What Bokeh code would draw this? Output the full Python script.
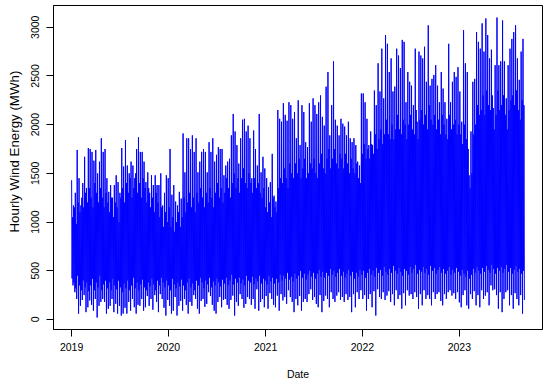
import pandas as pd
from bokeh.plotting import figure
from bokeh.models import ColumnDataSource, FixedTicker, Range1d, DatetimeTickFormatter, Title
from bokeh.embed import file_html
from bokeh.resources import INLINE

start_date = "2019-01-01"
year_labels = ["2019", "2020", "2021", "2022", "2023"]
y_ticks = [0, 500, 1000, 1500, 2000, 2500, 3000]
x_title = "Date"
y_title = "Hourly Wind Energy (MWh)"

# weekly highest hourly value (MWh)
week_high = [
    1430, 1170, 1300, 1740, 1450, 1170, 1400, 1670, 1350, 1760,
    1750, 1720, 1630, 1740, 1500, 1620, 1860, 1720, 1750, 1450,
    1310, 1380, 1250, 1380, 1480, 1410, 1300, 1760, 1570, 1840,
    1580, 1500, 1620, 1580, 1450, 1750, 1870, 1720, 1720, 1620,
    1410, 1510, 1300, 1480, 1380, 1480, 1380, 1380, 1500, 1170,
    1300, 1480, 1450, 1750, 1280, 1380, 1210, 1170, 1310, 1240,
    1910, 1510, 1860, 1860, 1750, 1890, 1720, 1860, 1510, 1620,
    1720, 1750, 1720, 1510, 1820, 1720, 1860, 1620, 1690, 1770,
    1750, 1750, 1480, 1580, 1620, 1650, 1890, 2110, 1930, 1790,
    1600, 1860, 2050, 2060, 1930, 1990, 1860, 1450, 1940, 1750,
    1580, 2110, 1510, 1670, 1550, 1450, 1360, 1410, 1700, 1270,
    1210, 2150, 2060, 2030, 2220, 2100, 2040, 2230, 2200, 2060,
    2130, 1860, 2250, 1790, 2200, 2130, 1820, 1770, 2220, 2030,
    2270, 2200, 2110, 2230, 2300, 2080, 1990, 2390, 2540, 1890,
    2200, 2650, 2050, 1990, 1890, 2060, 2010, 1980, 1890, 2030,
    1860, 1820, 1860, 1790, 1620, 1580, 2320, 2320, 2230, 2060,
    1790, 1930, 1790, 2350, 2200, 2630, 2340, 2780, 2270, 2920,
    2830, 2540, 2680, 2340, 2390, 2780, 2710, 2580, 2870, 2850,
    2230, 2540, 2440, 2400, 2200, 2780, 2030, 2750, 2710, 2680,
    2800, 2440, 3020, 2400, 2470, 2510, 2610, 2400, 2230, 2540,
    2370, 2230, 2060, 2830, 2230, 2440, 2540, 2490, 2590, 2340,
    2030, 2970, 2630, 2540, 1480, 1930, 2440, 2470, 2950, 2850,
    2780, 3040, 2750, 3090, 2920, 2680, 2770, 2170, 2610, 3100,
    2610, 2650, 3070, 2650, 2270, 2610, 2780, 2880, 2950, 3020,
    2680, 2460, 2750, 2880,
]

# weekly lowest hourly value (MWh)
week_low = [
    350, 280, 210, 60, 140, 200, 250, 75, 125, 195,
    150, 90, 210, 20, 140, 180, 210, 180, 60, 110,
    140, 210, 75, 160, 60, 140, 40, 60, 120, 60,
    180, 90, 210, 125, 60, 150, 140, 210, 90, 125,
    240, 140, 210, 100, 250, 180, 75, 260, 210, 120,
    40, 200, 140, 60, 90, 230, 40, 140, 190, 90,
    210, 150, 60, 180, 140, 250, 210, 110, 60, 190,
    210, 130, 160, 280, 240, 150, 90, 60, 180, 230,
    125, 200, 210, 150, 110, 200, 245, 40, 180, 140,
    260, 210, 120, 160, 230, 210, 150, 210, 110, 310,
    90, 180, 210, 125, 240, 110, 270, 210, 150, 125,
    245, 90, 260, 195, 230, 160, 300, 230, 180, 75,
    210, 145, 240, 90, 180, 210, 180, 260, 310, 200,
    230, 160, 125, 250, 75, 190, 245, 210, 125, 280,
    210, 180, 245, 280, 200, 230, 180, 260, 200, 230,
    75, 260, 125, 280, 210, 300, 210, 250, 90, 210,
    260, 125, 290, 40, 310, 230, 210, 280, 200, 245,
    290, 180, 260, 145, 300, 210, 250, 110, 270, 145,
    300, 245, 260, 210, 280, 230, 110, 260, 145, 300,
    210, 250, 210, 145, 280, 210, 260, 280, 190, 145,
    260, 210, 280, 300, 245, 270, 210, 280, 175, 125,
    250, 300, 145, 110, 260, 210, 290, 145, 250, 125,
    300, 210, 245, 280, 145, 350, 300, 310, 250, 110,
    280, 75, 210, 280, 300, 145, 250, 110, 270, 210,
    145, 250, 60, 200,
]

# weekly secondary (typical) high of the dense band (MWh)
week_mid_high = [
    1050, 1150, 980, 1200, 1100, 1250, 1150, 1300, 1200, 1350,
    1250, 1150, 1400, 1300, 1200, 1350, 1250, 1150, 1300, 1200,
    1100, 1250, 1050, 1200, 1150, 1000, 1250, 1350, 1200, 1400,
    1300, 1450, 1250, 1350, 1500, 1300, 1400, 1250, 1450, 1350,
    1200, 1350, 1150, 1250, 1100, 1300, 1200, 1050, 1150, 950,
    1100, 1000, 1150, 950, 1050, 900, 1000, 1100, 950, 1050,
    1250, 1100, 1200, 1300, 1150, 1250, 1100, 1300, 1200, 1350,
    1250, 1150, 1300, 1200, 1350, 1250, 1150, 1300, 1400, 1250,
    1350, 1200, 1300, 1450, 1350, 1250, 1400, 1500, 1350, 1450,
    1300, 1450, 1550, 1400, 1350, 1500, 1400, 1300, 1450, 1350,
    1400, 1300, 1250, 1350, 1150, 1100, 1200, 1050, 1250, 1150,
    1100, 1350, 1450, 1400, 1550, 1450, 1350, 1600, 1500, 1450,
    1600, 1500, 1650, 1450, 1550, 1650, 1450, 1500, 1600, 1550,
    1650, 1500, 1450, 1600, 1700, 1550, 1500, 1650, 1750, 1550,
    1650, 1750, 1600, 1550, 1700, 1650, 1550, 1700, 1600, 1500,
    1650, 1550, 1500, 1600, 1450, 1400, 1700, 1800, 1650, 1750,
    1650, 1800, 1700, 1900, 1750, 1850, 1950, 1800, 1900, 2050,
    1900, 1850, 2000, 1850, 1950, 2100, 1950, 1900, 2050, 2000,
    1850, 2000, 2100, 1950, 1900, 2150, 1850, 2050, 2150, 2000,
    2100, 1950, 2200, 2050, 2000, 2100, 1950, 2050, 1900, 2100,
    2000, 1900, 1850, 2100, 1950, 2000, 2050, 1900, 2000, 1900,
    1800, 2000, 1850, 1750, 1350, 1500, 1900, 2000, 2200, 2100,
    2150, 2300, 2100, 2350, 2200, 2150, 2300, 1950, 2100, 2350,
    2150, 2200, 2300, 2100, 1950, 2150, 2250, 2300, 2200, 2350,
    2150, 2050, 2250, 2200,
]

# weekly secondary (typical) low of the dense band (MWh)
week_mid_low = [
    420, 380, 320, 450, 350, 300, 400, 330, 380, 290,
    350, 420, 300, 380, 330, 450, 300, 360, 400, 320,
    380, 300, 420, 350, 310, 400, 330, 280, 370, 320,
    400, 300, 350, 430, 320, 380, 300, 360, 410, 330,
    300, 380, 340, 420, 360, 300, 400, 350, 430, 380,
    330, 400, 350, 300, 420, 360, 320, 380, 340, 410,
    350, 300, 380, 420, 330, 370, 300, 400, 350, 430,
    380, 320, 400, 360, 430, 330, 390, 350, 420, 380,
    340, 410, 370, 430, 350, 400, 460, 360, 420, 380,
    430, 370, 410, 350, 450, 400, 380, 440, 360, 420,
    390, 450, 370, 420, 400, 360, 450, 390, 430, 370,
    420, 380, 460, 400, 450, 420, 480, 410, 440, 390,
    470, 420, 450, 500, 430, 470, 410, 460, 500, 440,
    480, 420, 470, 510, 440, 490, 430, 480, 450, 520,
    460, 500, 440, 480, 520, 450, 490, 430, 470, 510,
    450, 490, 420, 480, 440, 510, 460, 500, 430, 480,
    520, 460, 500, 440, 530, 480, 510, 450, 540, 490,
    460, 520, 480, 550, 500, 470, 530, 490, 450, 520,
    500, 460, 540, 480, 520, 560, 470, 510, 490, 540,
    480, 520, 460, 550, 500, 530, 470, 510, 540, 480,
    520, 470, 500, 540, 460, 510, 480, 530, 490, 450,
    510, 470, 440, 500, 420, 460, 520, 480, 540, 500,
    470, 530, 490, 550, 510, 480, 560, 520, 470, 530,
    500, 540, 480, 520, 560, 490, 530, 470, 510, 550,
    490, 520, 470, 500,
]

t0 = pd.Timestamp(start_date)
xs, ys = [], []
for w, vals in enumerate(zip(week_high, week_mid_low, week_mid_high, week_low)):
    base = t0 + pd.Timedelta(days=7 * w)
    for k, v in enumerate(vals):
        xs.append(base + pd.Timedelta(days=1.75 * k))
        ys.append(v)

src = ColumnDataSource(data=dict(date=xs, energy=ys))

xmin, xmax = min(xs), max(xs)
xpad = (xmax - xmin) * 0.04
ymin, ymax = min(ys), max(ys)
ypad = (ymax - ymin) * 0.04

p = figure(width=550, height=383, x_axis_type="datetime",
           output_backend="svg", toolbar_location=None,
           x_range=Range1d(xmin - xpad, xmax + xpad),
           y_range=Range1d(ymin - ypad, ymax + ypad),
           min_border_left=53, min_border_right=8,
           min_border_top=5, min_border_bottom=54)
p.background_fill_color = "white"
p.border_fill_color = "white"
p.outline_line_color = "black"
p.outline_line_width = 1
p.xgrid.visible = False
p.ygrid.visible = False

p.line(x="date", y="energy", source=src, line_color="#0000FF", line_width=1)

font = "Liberation Sans"
for ax in (p.xaxis[0], p.yaxis[0]):
    ax.axis_line_color = "black"
    ax.major_tick_line_color = "black"
    ax.minor_tick_line_color = None
    ax.major_tick_out = 7
    ax.major_tick_in = 0
    ax.major_label_text_font = font
    ax.major_label_text_font_size = "10.5px"
    ax.major_label_text_color = "black"
    ax.axis_label_text_font = font
    ax.axis_label_text_font_size = "10.5px"
    ax.axis_label_text_font_style = "normal"
    ax.axis_label_text_color = "black"

p.xaxis.ticker = FixedTicker(ticks=[pd.Timestamp(f"{y}-01-01").value / 1e6 for y in year_labels])
p.xaxis.formatter = DatetimeTickFormatter(years="%Y", months="%Y", days="%Y", hours="%Y",
                                          minutes="%Y", seconds="%Y", milliseconds="%Y",
                                          microseconds="%Y", minsec="%Y", hourmin="%Y")
p.xaxis.major_label_standoff = 6
p.xaxis.axis_label = x_title
p.xaxis.axis_label_standoff = 14

p.yaxis.ticker = FixedTicker(ticks=y_ticks)
p.yaxis.major_label_orientation = "vertical"
p.yaxis.major_label_standoff = 7

# y title as a side title, starting ~97 px above the bottom of the frame
p.add_layout(Title(text=y_title, align="left", offset=97, standoff=10,
                   vertical_align="top",
                   text_font=font, text_font_size="13.3px", text_font_style="normal",
                   text_color="black"), "left")

open("out.html", "w").write(file_html(p, INLINE))
